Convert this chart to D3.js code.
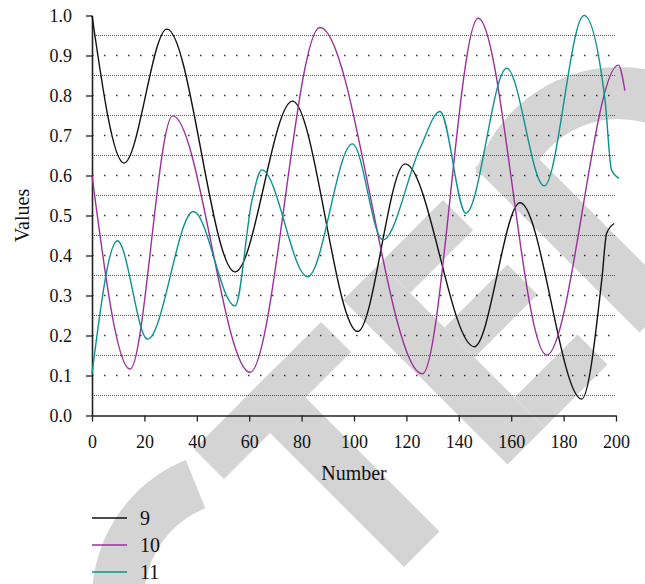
<!DOCTYPE html>
<html>
<head>
<meta charset="utf-8">
<script src="https://cdn.jsdelivr.net/npm/d3@7/dist/d3.min.js"></script>
<style>
  html, body { margin: 0; padding: 0; background: #fff; }
  svg { display: block; }
</style>
</head>
<body>
<svg id="chart" width="645" height="584"></svg>
<script>
// ---------------- data ----------------
const seriesNames = ["9", "10", "11"];
const seriesColors = ["#111111", "#9a2f9c", "#0c9191"];

const s9x = [0, 12.2, 28.6, 54.6, 76.5, 101.4, 119.5, 145.9, 163.4, 186.9, 194.7, 196.4, 199.3];
const s9y = [1.0, 0.631, 0.966, 0.359, 0.786, 0.210, 0.629, 0.172, 0.532, 0.041, 0.347, 0.455, 0.480];

const s10x = [0, 14.5, 30.8, 60.3, 87.0, 126.1, 147.4, 173.5, 200.9, 203.4];
const s10y = [0.600, 0.116, 0.749, 0.108, 0.970, 0.104, 0.993, 0.151, 0.876, 0.812];

const s11x = [0, 9.7, 21.2, 38.7, 54.6, 61.1, 64.8, 82.3, 99.4, 111.0, 125.2, 132.8, 142.7, 158.3, 172.6, 187.8, 195.8, 198.3, 201.1];
const s11y = [0.104, 0.437, 0.191, 0.510, 0.274, 0.539, 0.614, 0.347, 0.679, 0.439, 0.668, 0.760, 0.506, 0.868, 0.574, 1.000, 0.789, 0.614, 0.593];

const xMajorTicks = [0, 20, 40, 60, 80, 100, 120, 140, 160, 180, 200];
const xMinorTicks = [10, 30, 50, 70, 90, 110, 130, 150, 170, 190];
const yMajorTicks = [0.0, 0.1, 0.2, 0.3, 0.4, 0.5, 0.6, 0.7, 0.8, 0.9, 1.0];
const yMinorTicks = [0.05, 0.15, 0.25, 0.35, 0.45, 0.55, 0.65, 0.75, 0.85, 0.95];

const xTitle = "Number";
const yTitle = "Values";

// ---------------- layout ----------------
const svg = d3.select("#chart");
const FONT = "'Liberation Serif', 'Times New Roman', serif";

const x = d3.scaleLinear().domain([0, 200]).range([92, 616]);
const y = d3.scaleLinear().domain([0, 1]).range([415.5, 15.5]);

// ---------------- watermark (decoration) ----------------
const wm = svg.append("g").attr("fill", "#d4d4d4");
const bands = [
  [643, 703, 1, 255],
  [643, 971, 92, 163],
  [643, 972, -117, -43],
  [643, 703, -243, -117],
  [772, 832, -243, -117],
  [912, 972, -243, -117],
  [643, 972, -380, -307]
];
const uv = (u, v) => [(u - v) / 2, (u + v) / 2];
bands.forEach(([u0, u1, v0, v1]) => {
  const pts = [uv(u0, v0), uv(u1, v0), uv(u1, v1), uv(u0, v1)];
  wm.append("polygon").attr("points", pts.map(p => p.join(",")).join(" "));
});
const deg = Math.PI / 180;
const ringArc = d3.arc().innerRadius(98).outerRadius(150);
wm.append("path")
  .attr("transform", "translate(242,599)")
  .attr("d", ringArc({ startAngle: 235 * deg, endAngle: 338 * deg }));
wm.append("path")
  .attr("transform", "translate(619,217)")
  .attr("d", ringArc({ startAngle: 287 * deg, endAngle: 430 * deg }));

// ---------------- grid ----------------
const grid = svg.append("g");
grid.selectAll("line.minor").data(yMinorTicks).enter().append("line")
  .attr("x1", x(0)).attr("x2", x(200))
  .attr("y1", d => y(d)).attr("y2", d => y(d))
  .attr("stroke", "#555").attr("stroke-width", 1)
  .attr("stroke-dasharray", "1,1")
  .attr("shape-rendering", "crispEdges");
grid.selectAll("line.major").data(yMajorTicks.filter(d => d > 0 && d < 1)).enter().append("line")
  .attr("x1", x(0)).attr("x2", x(200))
  .attr("y1", d => y(d)).attr("y2", d => y(d))
  .attr("stroke", "#333").attr("stroke-width", 1.5)
  .attr("stroke-dasharray", "1.5,10.5");

// ---------------- axes ----------------
const fmt = d3.format(".1f");
const axX = svg.append("g").attr("transform", `translate(0,${y(0)})`);
axX.call(d3.axisBottom(x).tickValues(xMinorTicks).tickSize(3.5).tickFormat(""));
axX.call(d3.axisBottom(x).tickValues(xMajorTicks).tickSize(6).tickPadding(13.5).tickSizeOuter(0));
const axY = svg.append("g").attr("transform", `translate(${x(0)},0)`);
axY.call(d3.axisLeft(y).tickValues(yMinorTicks).tickSize(3.7).tickFormat(""));
axY.call(d3.axisLeft(y).tickValues(yMajorTicks).tickSize(6).tickPadding(14).tickFormat(fmt).tickSizeOuter(0));

svg.selectAll(".domain").attr("stroke", "#222").attr("stroke-width", 1.6);
svg.selectAll(".tick line").attr("stroke", "#222").attr("stroke-width", 1.3);
svg.selectAll(".tick text")
  .attr("font-family", FONT).attr("font-size", 18).attr("fill", "#111");

// axis titles
svg.append("text")
  .attr("x", (x(0) + x(200)) / 2).attr("y", 480)
  .attr("text-anchor", "middle")
  .attr("font-family", FONT).attr("font-size", 20).attr("fill", "#111")
  .text(xTitle);
svg.append("text")
  .attr("transform", `translate(29,${(y(0) + y(1)) / 2}) rotate(-90)`)
  .attr("text-anchor", "middle")
  .attr("font-family", FONT).attr("font-size", 20).attr("fill", "#111")
  .text(yTitle);

// ---------------- lines ----------------
const series = [
  { name: seriesNames[0], color: seriesColors[0], pts: s9x.map((d, i) => [d, s9y[i]]) },
  { name: seriesNames[1], color: seriesColors[1], pts: s10x.map((d, i) => [d, s10y[i]]) },
  { name: seriesNames[2], color: seriesColors[2], pts: s11x.map((d, i) => [d, s11y[i]]) }
];
const line = d3.line().x(d => x(d[0])).y(d => y(d[1])).curve(d3.curveMonotoneX);
svg.append("g").selectAll("path").data(series).enter().append("path")
  .attr("d", d => line(d.pts))
  .attr("fill", "none")
  .attr("stroke", d => d.color)
  .attr("stroke-width", 1.4);

// ---------------- legend ----------------
const leg = svg.append("g");
const legItems = leg.selectAll("g").data(series).enter().append("g")
  .attr("transform", (d, i) => `translate(92,${518 + i * 27})`);
legItems.append("line")
  .attr("x1", 0).attr("x2", 35).attr("y1", 0).attr("y2", 0)
  .attr("stroke", d => d.color).attr("stroke-width", 1.6);
legItems.append("text")
  .attr("x", 48).attr("y", 6.5)
  .attr("font-family", FONT).attr("font-size", 20).attr("fill", "#111")
  .text(d => d.name);
</script>
</body>
</html>
